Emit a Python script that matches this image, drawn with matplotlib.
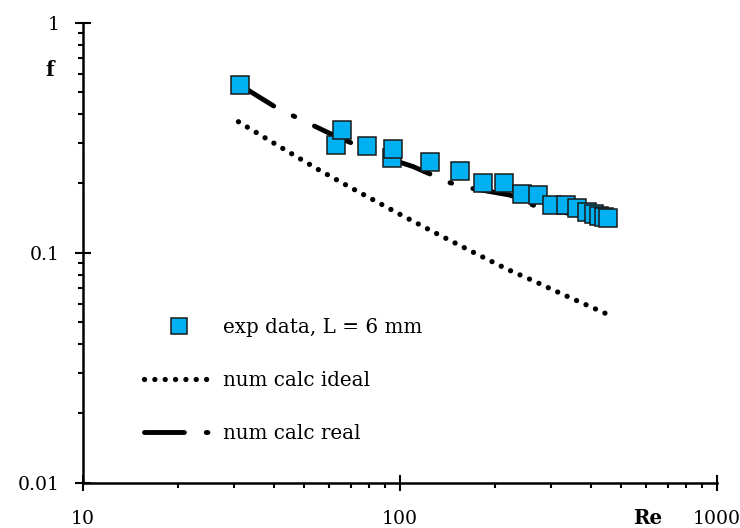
import matplotlib
matplotlib.use("Agg")
import matplotlib.pyplot as plt
from matplotlib.lines import Line2D

# Experimental friction factor, L = 6 mm
re_exp = [31.3, 62.8, 65.6, 78.7, 94.4, 95.1, 124.6, 154.9, 183.5, 213.8,
          242.7, 272.4, 302.2, 334.6, 362.5, 389.9, 410.2, 425.6, 441.3, 454.3]
f_exp = [0.536, 0.294, 0.342, 0.292, 0.258, 0.2815, 0.249, 0.227, 0.2015, 0.200,
         0.180, 0.178, 0.161, 0.161, 0.156, 0.150, 0.147, 0.144, 0.143, 0.1416]

# Numerical calculation, ideal geometry
re_ideal = [31.0, 40.0, 55.0, 70.0, 100.0, 130.0, 170.0, 220.0, 264.0, 330.0, 455.0]
f_ideal = [0.371, 0.300, 0.231, 0.192, 0.147, 0.1216, 0.1007, 0.0843, 0.0755, 0.0655, 0.0538]

# Numerical calculation, real geometry
re_real = [31.3, 41.0, 61.6, 88.7, 110.4, 144.0, 168.7, 222.7, 272.0, 451.0]
f_real = [0.536, 0.4256, 0.325, 0.2615, 0.2366, 0.2015, 0.1905, 0.178, 0.158, 0.1374]

x_ticks = [10, 100, 1000]
x_tick_labels = ["10", "100", "1000"]
y_ticks = [0.01, 0.1, 1]
y_tick_labels = ["0.01", "0.1", "1"]

plt.rcParams["font.family"] = ["DejaVu Serif"]
FS = 14.3
TICK_FS = 13.6

IDEAL_LW = 3.8
IDEAL_DASH = (0.01, 1.95)
REAL_LW = 3.5
REAL_DASH = (8.2, 4.5, 0.35, 4.5)
BLUE = "#00B0F0"
EDGE = "#1a1a1a"

fig = plt.figure(figsize=(7.40, 5.28), dpi=100)
ax = fig.add_axes([82.7 / 740, 1 - 482.7 / 528, (716.7 - 82.7) / 740, (482.7 - 22.7) / 528])

ax.set_xscale("log")
ax.set_yscale("log")
ax.set_xlim(10, 1000)
ax.set_ylim(0.01, 1)

ideal_line, = ax.plot(re_ideal, f_ideal, color="black", lw=IDEAL_LW,
                      dash_capstyle="round", zorder=2)
ideal_line.set_dashes(IDEAL_DASH)

real_line, = ax.plot(re_real, f_real, color="black", lw=REAL_LW,
                     dash_capstyle="round", zorder=2)
real_line.set_dashes(REAL_DASH)

ax.plot(re_exp, f_exp, linestyle="none", marker="s", markersize=13,
        markerfacecolor=BLUE, markeredgecolor=EDGE,
        markeredgewidth=1.1, zorder=3)

for side in ("top", "right"):
    ax.spines[side].set_visible(False)
for side in ("left", "bottom"):
    ax.spines[side].set_linewidth(1.8)

ax.set_xticks(x_ticks)
ax.set_xticklabels(x_tick_labels)
ax.set_yticks(y_ticks)
ax.set_yticklabels(y_tick_labels)
ax.tick_params(which="major", direction="inout", length=11.5, width=1.5,
               labelsize=TICK_FS)
ax.tick_params(axis="y", which="major", pad=10.5)
ax.tick_params(axis="x", which="major", pad=14)
ax.tick_params(which="minor", direction="out", length=3.6, width=1.5)
ax.minorticks_on()
ax.xaxis.set_minor_formatter(plt.NullFormatter())
ax.yaxis.set_minor_formatter(plt.NullFormatter())

ax.text(-0.0516, 0.622, "f", transform=ax.get_yaxis_transform(),
        ha="center", va="center", fontsize=FS, fontweight="bold")
ax.text(607, -0.0767, "Re", transform=ax.get_xaxis_transform(),
        ha="center", va="center", fontsize=FS, fontweight="bold")

h_exp = Line2D([], [], linestyle="none", marker="s", markersize=11,
               markerfacecolor=BLUE, markeredgecolor=EDGE,
               markeredgewidth=1.1)
h_ideal = Line2D([], [], color="black", lw=IDEAL_LW, dash_capstyle="round")
h_ideal.set_dashes(IDEAL_DASH)
h_real = Line2D([], [], color="black", lw=REAL_LW, dash_capstyle="round")
h_real.set_dashes(REAL_DASH)

ax.legend([h_exp, h_ideal, h_real],
          ["exp data, L = 6 mm", "num calc ideal", "num calc real"],
          loc="upper left", bbox_to_anchor=(144 / 740, 1 - 318 / 528),
          bbox_transform=fig.transFigure, frameon=False, fontsize=FS,
          handlelength=3.55, handletextpad=0.45, labelspacing=1.72,
          borderpad=0, borderaxespad=0)

fig.savefig("out.png", dpi=100)
